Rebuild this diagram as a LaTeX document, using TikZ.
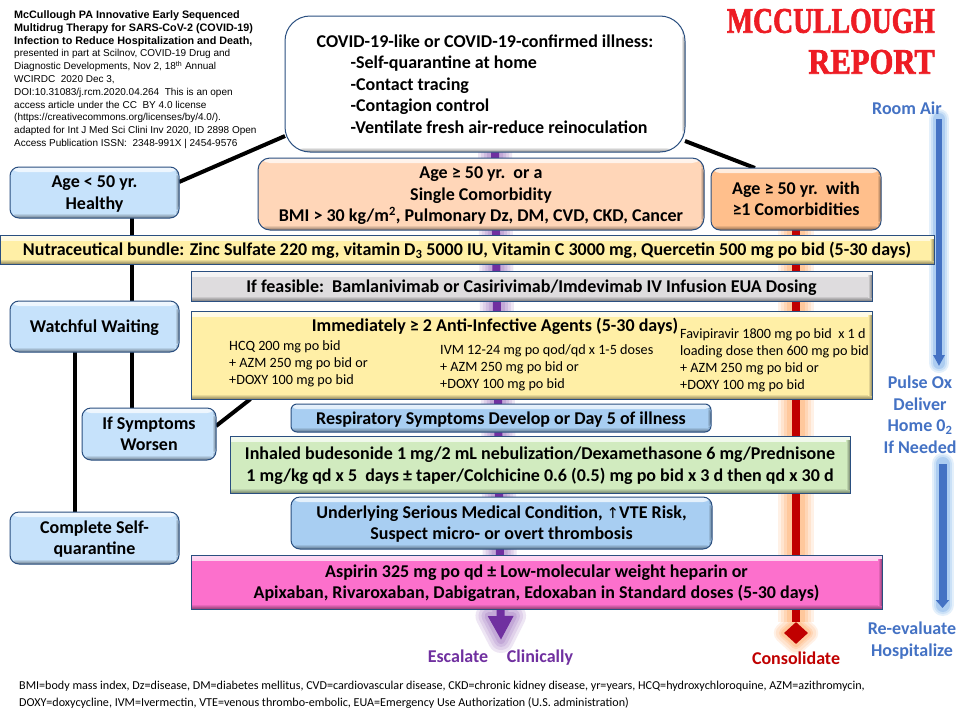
\documentclass[tikz,border=0pt]{standalone}
\usepackage{fontspec}
\setmainfont{Carlito}
\newfontfamily\arialf{Liberation Sans}
\newfontfamily\serf[BoldFeatures={FakeBold=2}]{Liberation Serif}
\newfontfamily\dejaf{DejaVu Sans}
\usetikzlibrary{arrows.meta,shapes.geometric,backgrounds,calc}
\definecolor{edge}{HTML}{2A4F80}
\definecolor{lblue}{HTML}{C6E2FB}
\definecolor{mblue}{HTML}{A8CEF2}
\definecolor{peach}{HTML}{FFD6B8}
\definecolor{apric}{HTML}{FFBF8C}
\definecolor{yell}{HTML}{FFEFA6}
\definecolor{lgray}{HTML}{DEDCDE}
\definecolor{lgreen}{HTML}{D1EBBF}
\definecolor{pinkb}{HTML}{FC70CC}
\definecolor{purp}{HTML}{7030A0}
\definecolor{redd}{HTML}{C00000}
\definecolor{blu}{HTML}{4472C4}
\definecolor{titlered}{HTML}{ED1C24}
\definecolor{og1}{HTML}{FFF1E6}
\definecolor{og2}{HTML}{FFE4CF}
\definecolor{og3}{HTML}{FFD6B6}
\definecolor{og4}{HTML}{FFC89C}
\definecolor{bg1}{HTML}{E4F0FB}
\definecolor{bg2}{HTML}{CBE1F7}
\definecolor{bg3}{HTML}{ADCDF1}
\newcommand{\tfix}{\rule{0pt}{17pt}}
\newcommand{\bfix}{\rule[-5pt]{0pt}{0pt}}
\tikzset{
  x=1pt,y=-1pt,
  bevel/.style={draw=edge,line width=1pt,fill=#1,inner sep=0pt,outer sep=0pt,align=center,anchor=north west,
    path picture={
      \shade[top color=#1!25!white,bottom color=#1] (path picture bounding box.north west) rectangle ([yshift=-5pt]path picture bounding box.north east);
      \shade[top color=#1,bottom color=#1!55!black] ([yshift=5pt]path picture bounding box.south west) rectangle (path picture bounding box.south east);
      \shade[left color=#1,right color=#1!55!black] ([xshift=-4pt,yshift=-4pt]path picture bounding box.north east) rectangle ([yshift=4pt]path picture bounding box.south east);
    }},
  rnd/.style={rounded corners=#1},
  big/.style={font=\bfseries\fontsize{18}{21.5}\selectfont},
  drug/.style={font=\fontsize{14.2}{17}\selectfont,align=left,anchor=north west,inner sep=0pt},
  link/.style={line width=4pt,black},
  side/.style={font=\bfseries\fontsize{18}{21.5}\selectfont,align=center,inner sep=0pt},
  foot/.style={font=\fontsize{12.1}{16.8}\selectfont,align=left,anchor=north west,inner sep=0pt},
  cite/.style={font=\arialf\fontsize{10}{12.8}\selectfont,align=left,anchor=north west,inner sep=0pt},
  brand/.style={font=\serf\bfseries\fontsize{36}{40}\selectfont,text=titlered,anchor=east,inner sep=0pt,xscale=#1,transform shape},
}
\newcommand{\citb}[1]{{\bfseries\fontsize{10.8}{12.8}\selectfont #1}}
\begin{document}
\begin{tikzpicture}
\useasboundingbox (0,0) rectangle (960,720);
% ---- boxes
\node[bevel=white,rnd=25pt,minimum width=400pt,minimum height=136pt,big,align=left] (top) at (285,16)
 {\tfix COVID-19-like or COVID-19-confirmed illness:\\
 \hspace*{34pt}-Self-quarantine at home\\
 \hspace*{34pt}-Contact tracing\\
 \hspace*{34pt}-Contagion control\\
 \hspace*{34pt}-Ventilate fresh air-reduce reinoculation\bfix};
\node[bevel=lblue,rnd=9pt,minimum width=169pt,minimum height=51pt,big] (young) at (10,167) {\tfix Age < 50 yr.\\Healthy\bfix};
\node[bevel=peach,rnd=12pt,minimum width=446pt,minimum height=72pt,big] (single) at (258,158) {\tfix Age ≥ 50 yr.\ \ or a\\Single Comorbidity\\BMI > 30 kg/m\textsuperscript{2}, Pulmonary Dz, DM, CVD, CKD, Cancer\bfix};
\node[bevel=apric,rnd=9pt,minimum width=170pt,minimum height=62pt,big] (older) at (711,168) {\tfix Age ≥ 50 yr.\ \ with\\≥1 Comorbidities\bfix};
\node[bevel=yell,minimum width=934pt,minimum height=29pt,big] (nutra) at (0,235) {\tfix Nutraceutical bundle: Zinc Sulfate 220 mg, vitamin D\textsubscript{3} 5000 IU, Vitamin C 3000 mg, Quercetin 500 mg po bid (5-30 days)\bfix};
\node[bevel=lgray,minimum width=681pt,minimum height=30pt,big] (mab) at (191,271) {\tfix If feasible:\ \ Bamlanivimab or Casirivimab/Imdevimab IV Infusion EUA Dosing\bfix};
\node[bevel=yell,minimum width=681pt,minimum height=88pt] (anti) at (191,311) {};
\node[big,inner sep=0pt] (antih) at (495,325) {\tfix Immediately ≥ 2 Anti-Infective Agents (5-30 days)\bfix};
\node[drug] (hcq) at (229,340.5) {HCQ 200 mg po bid\\+ AZM 250 mg po bid or\\+DOXY 100 mg po bid};
\node[drug] (ivm) at (440,344) {IVM 12-24 mg po qod/qd x 1-5 doses\\+ AZM 250 mg po bid or\\+DOXY 100 mg po bid};
\node[drug] (fav) at (680,328.5) {Favipiravir 1800 mg po bid\ \ x 1 d\\loading dose then 600 mg po bid\\+ AZM 250 mg po bid or\\+DOXY 100 mg po bid};
\node[bevel=lblue,rnd=9pt,minimum width=169pt,minimum height=51pt,big] (watch) at (10,301) {\tfix Watchful Waiting\bfix};
\node[bevel=lblue,rnd=9pt,minimum width=134pt,minimum height=52pt,big] (worse) at (82,408) {\tfix If Symptoms\\Worsen\bfix};
\node[bevel=mblue,rnd=6pt,minimum width=420pt,minimum height=28pt,big] (resp) at (291,404) {\tfix Respiratory Symptoms Develop or Day 5 of illness\bfix};
\node[bevel=lgreen,minimum width=620pt,minimum height=57pt,big] (bude) at (230,436) {\tfix Inhaled budesonide 1 mg/2 mL nebulization/Dexamethasone 6 mg/Prednisone\\1 mg/kg qd x 5\ \ days ± taper/Colchicine 0.6 (0.5) mg po bid x 3 d then qd x 30 d\bfix};
\node[bevel=mblue,rnd=9pt,minimum width=421pt,minimum height=52pt,big] (under) at (291,497) {\tfix Underlying Serious Medical Condition, {\dejaf\mdseries\fontsize{15}{15}\selectfont↑}VTE Risk,\\Suspect micro- or overt thrombosis\bfix};
\node[bevel=pinkb,minimum width=691pt,minimum height=54pt,big] (asp) at (191,555) {\tfix Aspirin 325 mg po qd ± Low-molecular weight heparin or\\Apixaban, Rivaroxaban, Dabigatran, Edoxaban in Standard doses (5-30 days)\bfix};
\node[bevel=lblue,rnd=9pt,minimum width=169pt,minimum height=52pt,big] (self) at (10,512) {\tfix Complete Self-\\quarantine\bfix};
% ---- free texts
\node[cite] (cit) at (14,10.5) {\citb{McCullough PA Innovative Early Sequenced}\\\citb{Multidrug Therapy for SARS-CoV-2 (COVID-19)}\\\citb{Infection to Reduce Hospitalization and Death,}\\presented in part at Scilnov, COVID-19 Drug and\\Diagnostic Developments, Nov 2, 18\textsuperscript{th} Annual\\WCIRDC\ \ 2020 Dec 3,\\DOI:10.31083/j.rcm.2020.04.264\ \ This is an open\\access article under the CC\ \ BY 4.0 license\\(https://creativecommons.org/licenses/by/4.0/).\\adapted for Int J Med Sci Clini Inv 2020, ID 2898 Open\\Access Publication ISSN:\ \ 2348-991X | 2454-9576};
\node[brand=.77] (mcc) at (935,21) {MCCULLOUGH};
\node[brand=.85] (rep) at (935,62) {REPORT};
\node[side,text=blu] (room) at (907,108) {Room Air};
\node[side,text=blu] (pulse) at (920,414.5) {Pulse Ox\\Deliver\\Home 0\textsubscript{2}\\If Needed};
\node[side,text=blu] (reev) at (912,640.5) {Re-evaluate\\Hospitalize};
\node[side,text=purp,anchor=base] (esc) at (458,662) {Escalate};
\node[side,text=purp,anchor=base] (clin) at (540,662) {Clinically};
\node[side,text=redd,anchor=base] (cons) at (796,664) {Consolidate};
\node[foot] (abbr) at (19,681) {BMI=body mass index, Dz=disease, DM=diabetes mellitus, CVD=cardiovascular disease, CKD=chronic kidney disease, yr=years, HCQ=hydroxychloroquine, AZM=azithromycin,\\DOXY=doxycycline, IVM=Ivermectin, VTE=venous thrombo-embolic, EUA=Emergency Use Authorization (U.S. administration)};
\node[diamond,fill=redd,inner sep=0pt,minimum width=24pt,minimum height=22pt] (dia) at (796,633) {};
% ---- arrows and connectors behind the boxes
\coordinate (pa) at (495,152);
\coordinate (pb) at (500.4,616);
\coordinate (pe) at (501,640);
\coordinate (ph1) at (488.5,616);
\coordinate (ph2) at (513,616);
\coordinate (ba1) at (939,119);
\coordinate (ba2) at (939,366);
\coordinate (bb1) at (942.5,464);
\coordinate (bb2) at (942.5,608);
\begin{scope}[on background layer]
  \fill[white] (0,0) rectangle (960,720);
  % glows
  \foreach \g/\p in {13/12,10/22,7/32,4/42}{
    \draw[line width=8pt+2*\g pt,purp!\p!white] (pa) -- (pb);
    \draw[line width=2*\g pt,line join=round,fill,purp!\p!white] (ph1) -- (ph2) -- (pe) -- cycle;
  }
  \foreach \g/\d/\c in {14/10/og1,11/8/og2,8/5/og3,5/3/og4}{
    \draw[line width=8pt+2*\g pt,\c] (older.south) -- (dia.north);
    \draw[line width=2*\d pt,line join=round,fill,\c] (dia.north) -- (dia.east) -- (dia.south) -- (dia.west) -- cycle;
  }
  \foreach \g/\c in {7/bg1,5/bg2,3/bg3}{
    \draw[line width=6pt+2*\g pt,\c,line cap=round] (ba1) -- ([yshift=3pt]ba2);
    \draw[line width=8pt+2*\g pt,\c,line cap=round] (bb1) -- ([yshift=3pt]bb2);
  }
  % arrows
  \draw[line width=8pt,purp,-{Triangle[length=24pt,width=24pt]}] (pa) -- (pe);
  \draw[line width=8pt,redd] (older.south) -- (dia);
  \draw[line width=6pt,blu,-{Triangle[length=11pt,width=11pt]}] (ba1) -- (ba2);
  \draw[line width=8pt,blu,-{Triangle[length=8pt,width=13pt]}] (bb1) -- (bb2);
  % connectors
  \draw[link] ([yshift=-52pt]top.west) -- ([yshift=10.5pt]young.east);
  \draw[link] ([yshift=-57pt]top.east) -- ([xshift=-41pt]older.north);
  \draw[link] ([xshift=37.5pt]young.south) -- ([xshift=37.5pt]watch.north);
  \draw[link] ([xshift=37.5pt]watch.south) -- ([xshift=-17pt]worse.north);
  \draw[link] ([xshift=-19.5pt]watch.south) -- ([xshift=-19.5pt]self.north);
  \draw[link] ([yshift=8pt]worse.east) -- ([xshift=-281pt]anti.south);
\end{scope}
\end{tikzpicture}
\end{document}
